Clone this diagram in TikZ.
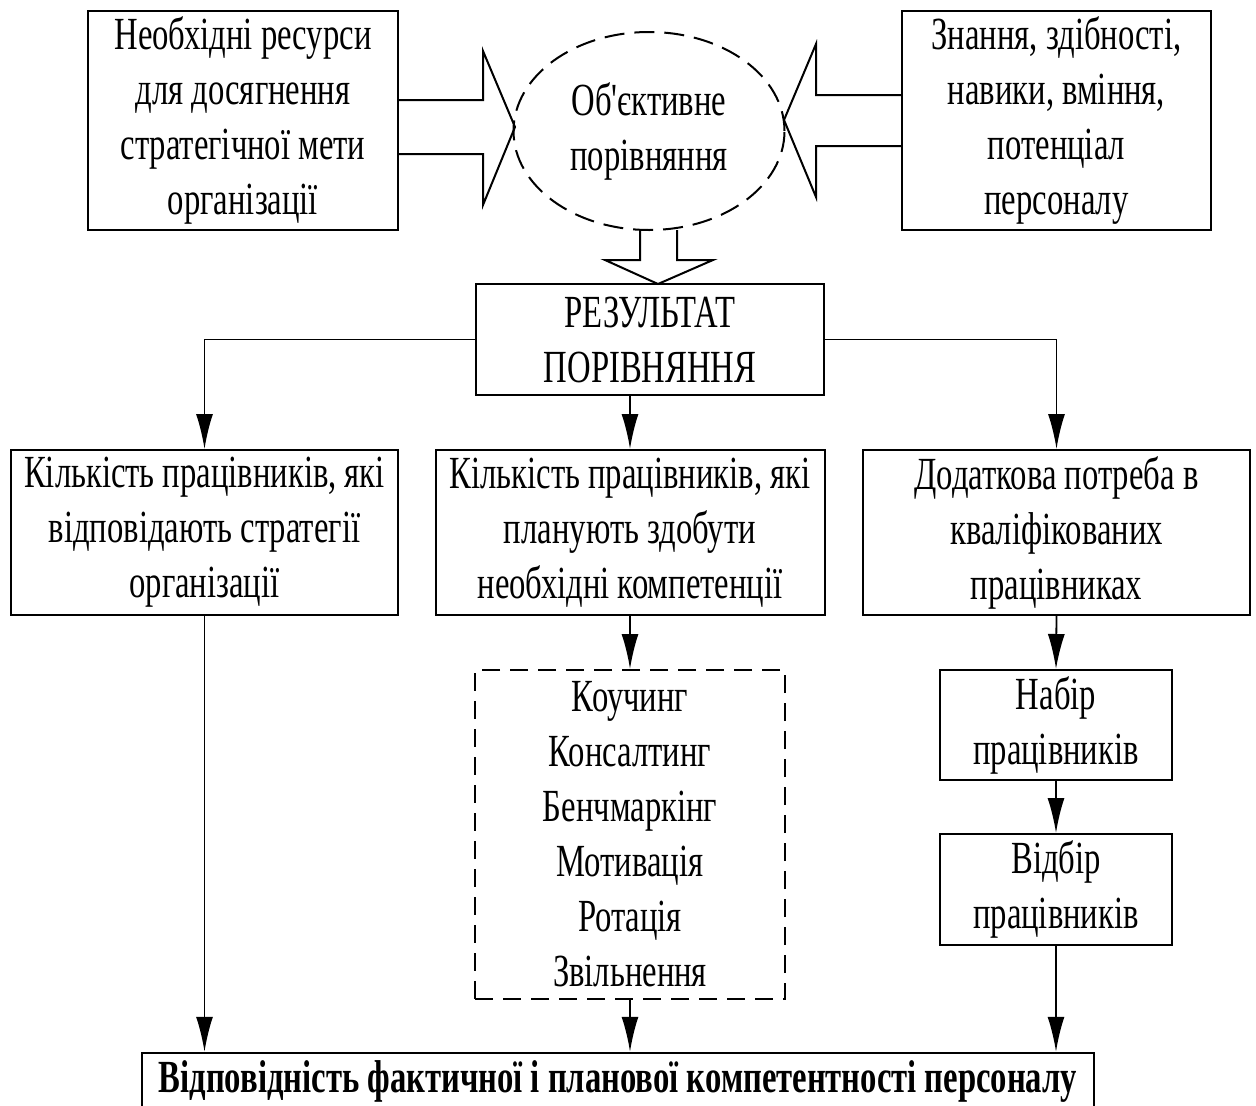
\documentclass[tikz,border=0pt]{standalone}
\usepackage{fontspec}
\setmainfont{Liberation Serif}[Ligatures=TeXOff, FakeStretch=0.71]
\usetikzlibrary{shapes.geometric, arrows.meta, positioning, calc}

\begin{document}
\begin{tikzpicture}[x=1pt, y=1pt, font=\fontsize{46}{55}\selectfont,
    box/.style={draw=black, line width=2pt, rectangle, align=center, inner sep=0pt},
    dbox/.style={box, dash pattern=on 18pt off 10pt},
    conn/.style={-{Latex[length=35pt, width=17pt]}, line width=1.8pt},
    blockarr/.style={draw=black, line width=2pt, line join=miter}]
    \useasboundingbox (0,0) rectangle (1256,-1106);
    % top row
    \node[box, minimum width=310, minimum height=219] (need) at (243,-120.5) {Необхідні ресурси\\для досягнення\\стратегічної мети\\організації};
    \node[box, minimum width=309, minimum height=219] (skill) at (1056.5,-120.5) {Знання, здібності,\\навики, вміння,\\потенціал\\персоналу};
    \node[ellipse, draw=black, line width=2pt, dash pattern=on 20pt off 10pt, inner sep=0pt, minimum width=271, minimum height=198, align=center] (cmp) at (649,-131) {Об'єктивне\\порівняння};
    % block arrows
    \draw[blockarr] (need.east |- 0,-100) -- (483,-100) -- (483,-51) -- (515,-127) -- (483,-205) -- (483,-154) -- (need.east |- 0,-154);
    \draw[blockarr] (skill.west |- 0,-95) -- (816,-95) -- (816,-44) -- (784,-120) -- (816,-197) -- (816,-146) -- (skill.west |- 0,-146);
    \draw[blockarr] (640,-230) -- (640,-260) -- (605,-260) -- (658,-284) -- (713,-260) -- (677,-260) -- (677,-230);
    % result
    \node[box, minimum width=348, minimum height=111] (rslt) at (650,-339.5) {РЕЗУЛЬТАТ\\ПОРІВНЯННЯ};
    \node[box, minimum width=387, minimum height=165] (fits) at (204.5,-532.5) {Кількість працівників, які\\відповідають стратегії\\організації};
    \node[box, minimum width=389, minimum height=165] (plan) at (630,-532.5) {Кількість працівників, які\\планують здобути\\необхідні компетенції};
    \node[box, minimum width=387, minimum height=165] (need2) at (1056.5,-532.5) {Додаткова потреба в\\кваліфікованих\\працівниках};
    % lower blocks
    \node[dbox, minimum width=310, minimum height=329] (tools) at (630,-834.5) {Коучинг\\Консалтинг\\Бенчмаркінг\\Мотивація\\Ротація\\Звільнення};
    \node[box, minimum width=232, minimum height=110] (hire) at (1056,-725) {Набір\\працівників};
    \node[box, minimum width=232, minimum height=111] (pick) at (1056,-889.5) {Відбір\\працівників};
    \node[box, line width=2.5pt, minimum width=952, minimum height=56, font=\fontsize{46}{55}\selectfont\bfseries] (match) at (618,-1081) {Відповідність фактичної і планової компетентності персоналу};
    % connectors
    \draw[conn] (rslt.west) -| (fits.north);
    \draw[conn] (rslt.south -| plan.north) -- (plan.north);
    \draw[conn] (rslt.east) -| (need2.north);
    \draw[conn] (plan.south) -- (tools.north);
    \draw[conn] (need2.south) -- (hire.north);
    \draw[conn] (hire.south) -- (pick.north);
    \foreach \n in {fits, tools, pick} {
        \draw[conn] (\n.south) -- (match.north -| \n.south);
    }
\end{tikzpicture}
\end{document}
